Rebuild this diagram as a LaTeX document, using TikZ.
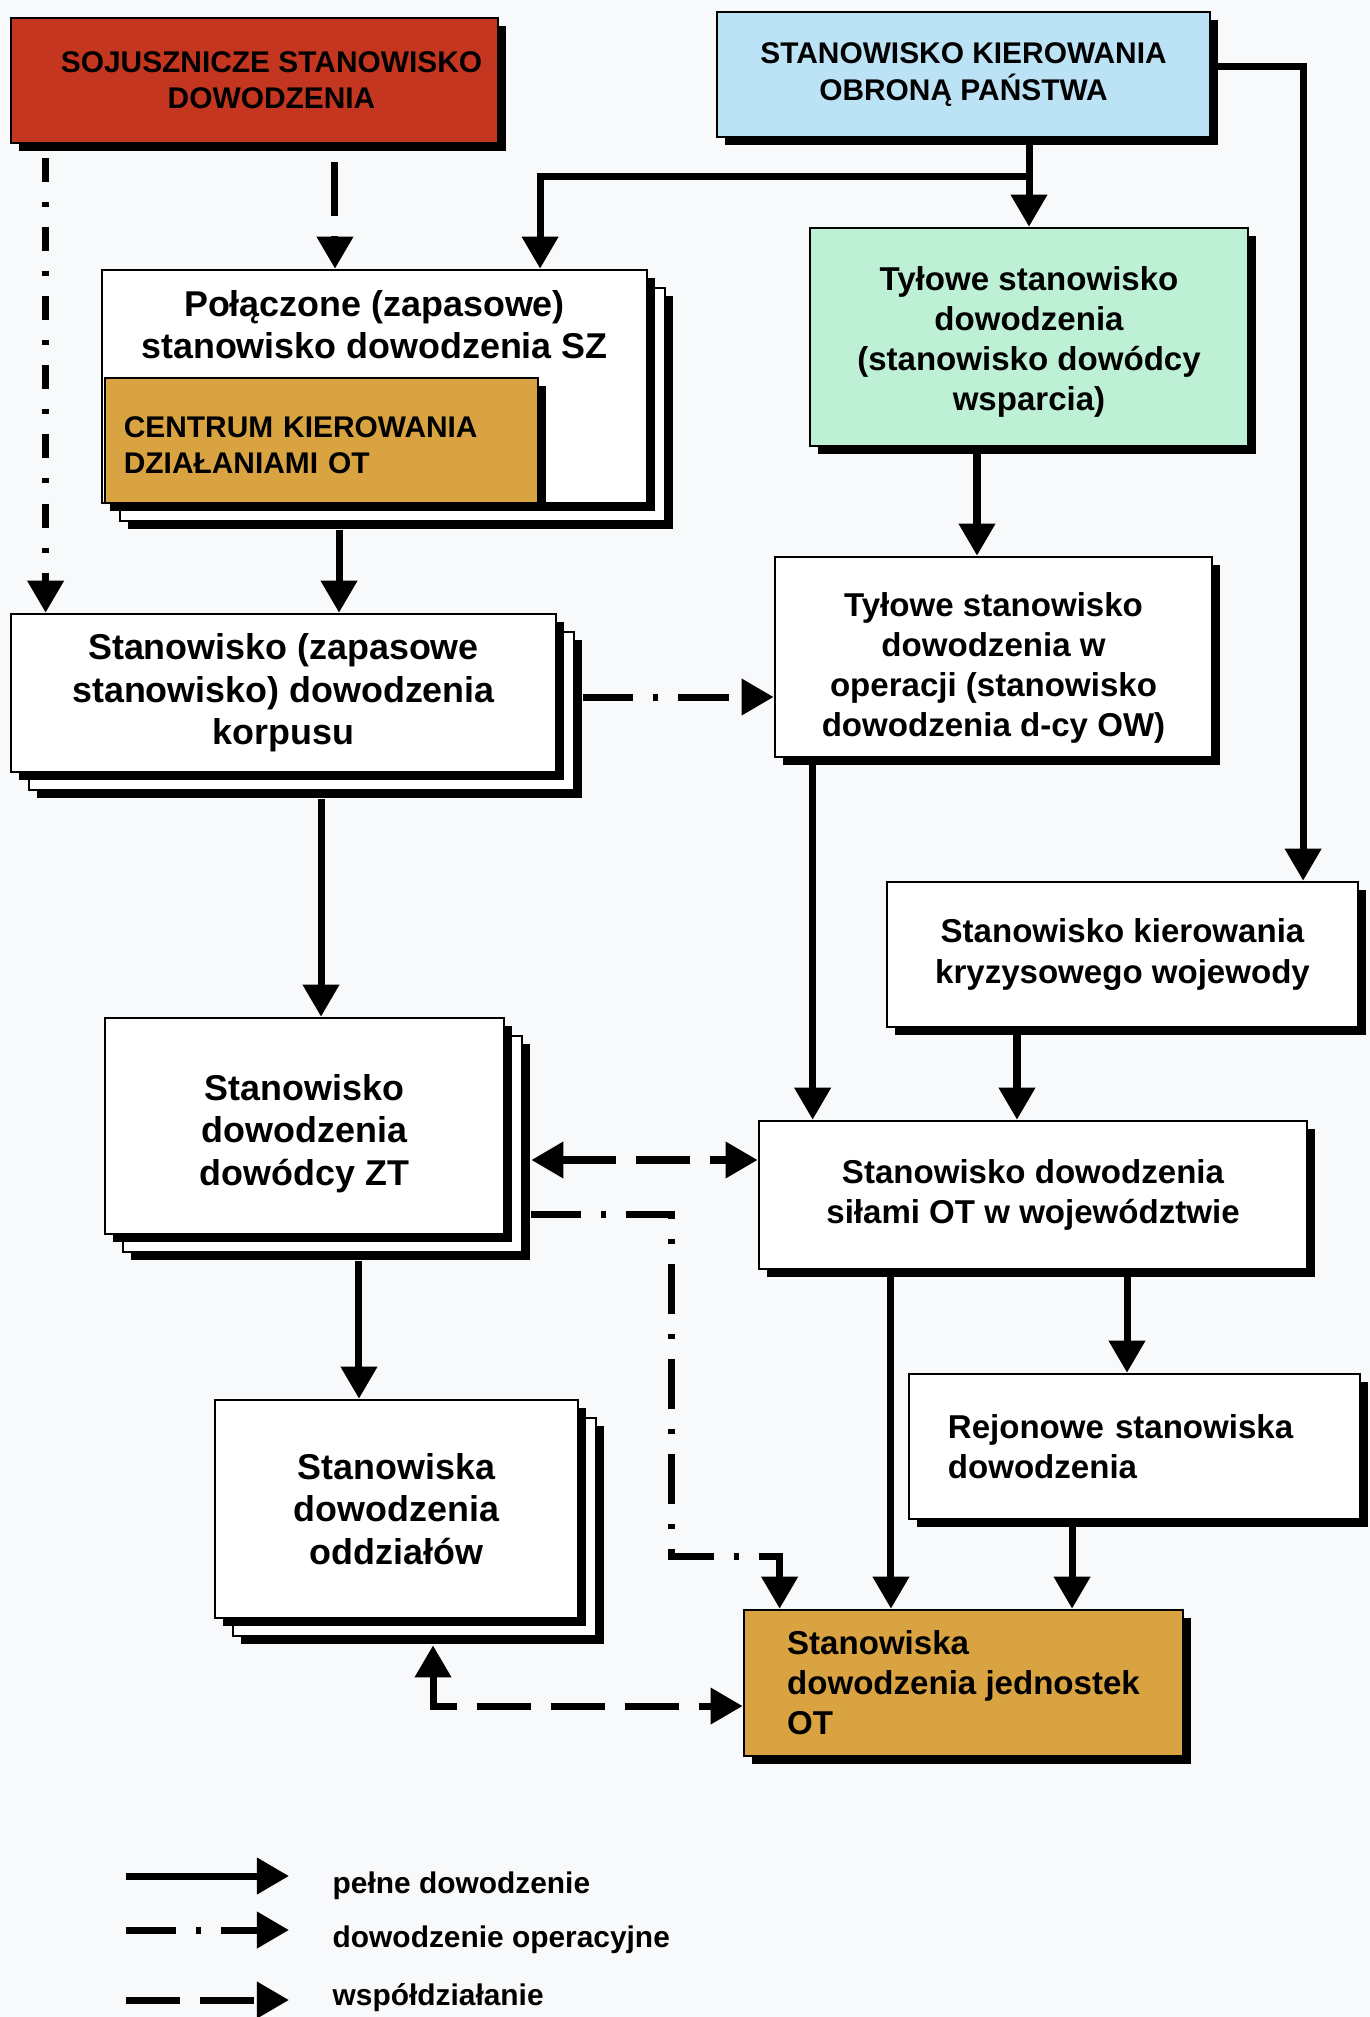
\documentclass[tikz,border=0pt]{standalone}
\usepackage{fontspec}
\setmainfont{Liberation Sans}
\usetikzlibrary{positioning, arrows.meta, shadows}

\definecolor{paper}{RGB}{247,249,251}
\definecolor{sojred}{RGB}{197,54,32}
\definecolor{skopblue}{RGB}{188,226,245}
\definecolor{tylgreen}{RGB}{190,240,214}
\definecolor{otorange}{RGB}{216,163,64}

\tikzset{
	boxbase/.style={draw=black, line width=0.025cm, inner sep=0pt, align=center, fill=white,
		font=\bfseries\fontsize{9.4}{11.4}\selectfont},
	box/.style={boxbase,
		drop shadow={shadow xshift=0.08cm, shadow yshift=-0.08cm, opacity=1, fill=black}},
	stack/.style={boxbase, font=\bfseries\fontsize{10.2}{12.1}\selectfont,
		general shadow={shadow xshift=0.26cm, shadow yshift=-0.26cm, fill=black},
		general shadow={shadow xshift=0.18cm, shadow yshift=-0.18cm, fill=white, draw=black, line width=0.025cm},
		drop shadow={shadow xshift=0.08cm, shadow yshift=-0.08cm, opacity=1, fill=black}},
	caps/.style={font=\bfseries\fontsize{8.5}{10.3}\selectfont},
	legtext/.style={inner sep=0pt, anchor=west, font=\bfseries\fontsize{8.5}{10}\selectfont},
	pelne/.style={->, line width=0.07cm},
	operac/.style={->, line width=0.07cm, dash pattern=on 0.5cm off 0.2cm on 0.05cm off 0.2cm},
	wspol/.style={->, line width=0.07cm, dash pattern=on 0.54cm off 0.2cm}
}

\begin{document}
\begin{tikzpicture}[x=0.01cm, y=-0.01cm, >={Triangle[length=0.32cm, width=0.35cm]}]
	\fill[paper] (0,0) rectangle (1370,2017);
	\useasboundingbox (0,0) rectangle (1370,2017);

	\node[box, caps, fill=sojred, minimum width=4.87cm, minimum height=1.25cm] (soj) at (254.5,80.5) {\hspace*{0.34cm}SOJUSZNICZE STANOWISKO\\\hspace*{0.34cm}DOWODZENIA};
	\node[box, caps, fill=skopblue, minimum width=4.93cm, minimum height=1.25cm] (skop) at (963.5,74.5) {STANOWISKO KIEROWANIA\\OBRONĄ PAŃSTWA};

	\node[stack, minimum width=5.45cm, minimum height=2.33cm] (pol) at (374.5,386.5) {};
	\node[anchor=north, inner sep=0pt, align=center, font=\bfseries\fontsize{10.2}{12.1}\selectfont] (poltxt) at ([yshift=-0.21cm]pol.north) {Połączone (zapasowe)\\stanowisko dowodzenia SZ};
	\node[box, caps, fill=otorange, anchor=south west, align=left, text width=3.95cm, inner xsep=0.19cm, minimum height=1.25cm] (cent) at ([xshift=0.03cm]pol.south west) {\rule{0pt}{0.3cm}CENTRUM KIEROWANIA\\DZIAŁANIAMI OT};
	\node[box, fill=tylgreen, minimum width=4.38cm, minimum height=2.18cm] (tyl) at (1029,337) {\rule{0pt}{0.34cm}Tyłowe stanowisko\\dowodzenia\\(stanowisko dowódcy\\wsparcia)};

	\node[stack, minimum width=5.45cm, minimum height=1.58cm] (korp) at (283.5,693) {Stanowisko (zapasowe\\stanowisko) dowodzenia\\korpusu};
	\node[box, minimum width=4.37cm, minimum height=2.0cm] (tylop) at (993.5,657) {\rule{0pt}{0.46cm}Tyłowe stanowisko\\dowodzenia w\\operacji (stanowisko\\dowodzenia d-cy OW)};
	\node[box, minimum width=4.71cm, minimum height=1.45cm] (kryz) at (1122.5,954.5) {Stanowisko kierowania\\kryzysowego wojewody};

	\node[stack, minimum width=3.99cm, minimum height=2.16cm] (zt) at (304.5,1126) {\rule{0pt}{0.41cm}Stanowisko\\dowodzenia\\dowódcy ZT};
	\node[box, minimum width=5.48cm, minimum height=1.48cm] (sot) at (1033,1195) {Stanowisko dowodzenia\\siłami OT w województwie};
	\node[box, align=left, text width=3.73cm, inner xsep=0.39cm, minimum height=1.45cm] (rej) at (1134.5,1446.5) {Rejonowe stanowiska\\dowodzenia};
	\node[stack, minimum width=3.63cm, minimum height=2.18cm] (oddz) at (396.5,1509) {Stanowiska\\dowodzenia\\oddziałów};
	\node[box, fill=otorange, align=left, minimum width=4.39cm, minimum height=1.46cm] (jot) at (963.5,1683) {Stanowiska\\dowodzenia jednostek\\OT};

	\coordinate (split) at ([yshift=-0.38cm]skop.south -| tyl.north);
	\draw[pelne] (skop.south -| tyl.north) -- (tyl.north);
	\draw[pelne] (split) -| ([xshift=1.655cm]pol.north);
	\draw[pelne] ([yshift=0.085cm]skop.east) -| ([xshift=1.805cm]kryz.north);
	\draw[wspol, shorten <=0.18cm] ([xshift=-0.395cm]pol.north |- soj.south) -- ([xshift=-0.395cm]pol.north);
	\draw[operac, dash pattern=on 0.24cm off 0.2cm on 0.05cm off 0.2cm, shorten <=0.14cm] ([xshift=0.36cm]korp.north west |- soj.south) -- ([xshift=0.36cm]korp.north west);
	\draw[pelne, shorten <=0.26cm] ([xshift=0.555cm]korp.north |- pol.south) -- ([xshift=0.555cm]korp.north);
	\draw[pelne] ([xshift=-0.165cm]tylop.north |- tyl.south) -- ([xshift=-0.165cm]tylop.north);
	\draw[operac, shorten <=0.26cm] ([yshift=-0.04cm]korp.east) -- ([yshift=-0.04cm]korp.east -| tylop.west);
	\draw[pelne, shorten <=0.26cm] ([xshift=0.165cm]zt.north |- korp.south) -- ([xshift=0.165cm]zt.north);
	\draw[pelne] ([xshift=0.39cm]tylop.south west) -- ([xshift=0.39cm]tylop.south west |- sot.north);
	\draw[pelne] ([xshift=-0.16cm]sot.north |- kryz.south) -- ([xshift=-0.16cm]sot.north);
	\draw[wspol, <->, shorten <=0.26cm] ([yshift=0.35cm]sot.west -| zt.east) -- ([yshift=0.35cm]sot.west);
	\draw[operac, shorten <=0.26cm] ([yshift=-0.88cm]zt.east) -- ++(1.66cm,0) |- ([xshift=0.37cm, yshift=0.52cm]jot.north west) -- ([xshift=0.37cm]jot.north west);
	\draw[pelne, shorten <=0.26cm] ([xshift=-0.375cm]oddz.north |- zt.south) -- ([xshift=-0.375cm]oddz.north);
	\draw[pelne] ([xshift=-0.725cm]jot.north |- sot.south) -- ([xshift=-0.725cm]jot.north);
	\draw[pelne] ([xshift=-0.075cm]rej.north |- sot.south) -- ([xshift=-0.075cm]rej.north);
	\draw[pelne] ([xshift=1.085cm]jot.north |- rej.south) -- ([xshift=1.085cm]jot.north);
	\draw[wspol, <->, shorten <=0.26cm] ([xshift=0.365cm]oddz.south) |- ([yshift=-0.23cm]jot.west);

	\node[legtext] (leg1) at (332,1886) {pełne dowodzenie};
	\node[legtext] (leg2) at (332,1940) {dowodzenie operacyjne};
	\node[legtext] (leg3) at (332,1998) {współdziałanie};
	\coordinate (l1) at (126,1876);
	\coordinate (l2) at (126,1930);
	\coordinate (l3) at (126,2000);
	\draw[pelne] (l1) -- ([xshift=-0.43cm]leg1.west |- l1);
	\draw[operac] (l2) -- ([xshift=-0.43cm]leg2.west |- l2);
	\draw[wspol] (l3) -- ([xshift=-0.43cm]leg3.west |- l3);
\end{tikzpicture}
\end{document}
